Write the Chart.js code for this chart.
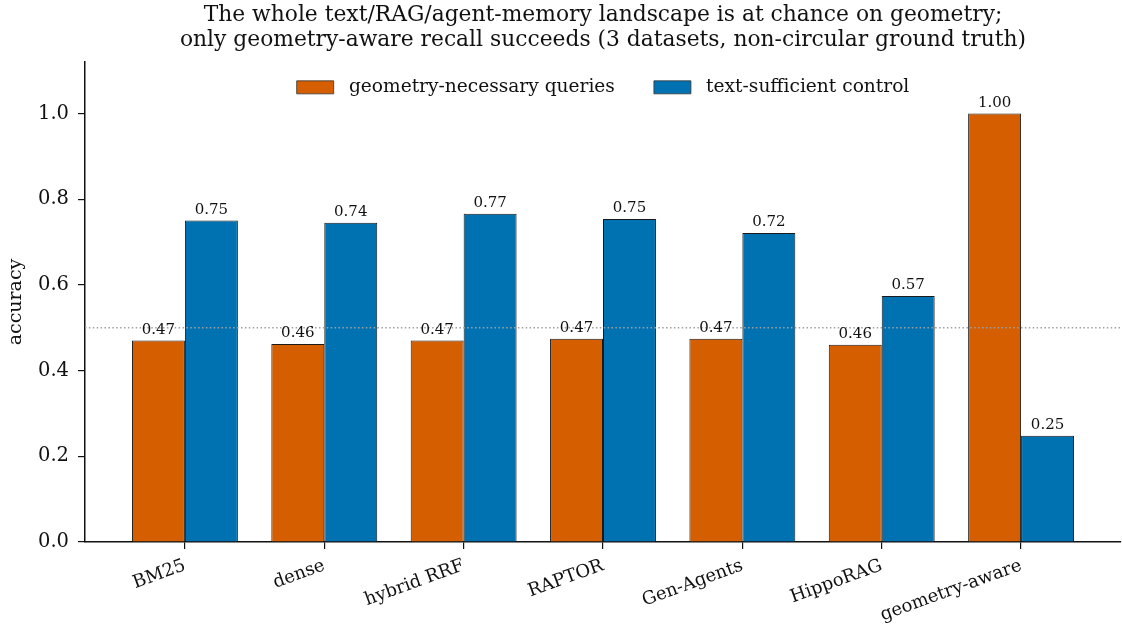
<!DOCTYPE html>
<html>
<head>
<meta charset="utf-8">
<script src="https://cdn.jsdelivr.net/npm/chart.js@4/dist/chart.umd.min.js"></script>
<style>
  html, body { margin: 0; padding: 0; background: #fff; }
  #wrap { width: 1122px; height: 626px; }
</style>
</head>
<body>
<div id="wrap"><canvas id="c" width="1122" height="626"></canvas></div>
<script>
const categories = ['BM25', 'dense', 'hybrid RRF', 'RAPTOR', 'Gen-Agents', 'HippoRAG', 'geometry-aware'];
const geoNecessary = [0.47, 0.462, 0.47, 0.474, 0.474, 0.46, 1.00];
const textSufficient = [0.75, 0.745, 0.766, 0.754, 0.721, 0.574, 0.248];
const yTicks = [0, 0.2, 0.4, 0.6, 0.8, 1.0];
const chanceLevel = 0.5;

const FONT = "'DejaVu Serif', serif";
const ORANGE = '#D55E00';
const BLUE = '#0072B2';
const LEGEND_PAD = 39;

// legend laid out in one row inside the plot area, near the top
const legendInside = {
  id: 'legendInside',
  afterInit(chart) {
    if (chart.legend) chart.legend.isHorizontal = () => true;
  },
  afterLayout(chart) {
    const L = chart.legend, a = chart.chartArea;
    if (!L) return;
    const w = L.right - L.left, h = L.bottom - L.top;
    const cx = (a.left + a.right) / 2;
    L.left = cx - w / 2; L.right = cx + w / 2;
    L.top = a.top + 27 - 11 - LEGEND_PAD; L.bottom = L.top + h;
  }
};

// dotted chance line + value labels on top of bars
const overlay = {
  id: 'overlay',
  afterDatasetsDraw(chart) {
    const { ctx, chartArea: a, scales: { y } } = chart;
    const py = y.getPixelForValue(chanceLevel);
    ctx.save();
    ctx.strokeStyle = '#a0a0a0';
    ctx.lineWidth = 1.3;
    ctx.setLineDash([1.5, 2.4]);
    ctx.beginPath();
    ctx.moveTo(a.left, py);
    ctx.lineTo(a.right, py);
    ctx.stroke();
    ctx.setLineDash([]);
    ctx.fillStyle = '#111';
    ctx.font = '15px ' + FONT;
    ctx.textAlign = 'center';
    ctx.textBaseline = 'bottom';
    chart.data.datasets.forEach((ds, di) => {
      chart.getDatasetMeta(di).data.forEach((bar, i) => {
        ctx.fillText(ds.data[i].y.toFixed(2), bar.x, bar.y - 3);
      });
    });
    ctx.restore();
  }
};

new Chart(document.getElementById('c'), {
  type: 'bar',
  data: {
    datasets: [
      { label: 'geometry-necessary queries', data: geoNecessary.map((v, i) => ({ x: i, y: v })), backgroundColor: ORANGE, borderColor: '#1a1a1a', borderWidth: 1 },
      { label: 'text-sufficient control', data: textSufficient.map((v, i) => ({ x: i, y: v })), backgroundColor: BLUE, borderColor: '#1a1a1a', borderWidth: 1 }
    ]
  },
  options: {
    responsive: false,
    animation: false,
    devicePixelRatio: 1,
    layout: { padding: { left: 0, right: 1, top: 0, bottom: 0 } },
    datasets: { bar: { categoryPercentage: 0.76, barPercentage: 1.0 } },
    plugins: {
      title: {
        display: true,
        fullSize: false,
        text: ['The whole text/RAG/agent-memory landscape is at chance on geometry;', 'only geometry-aware recall succeeds (3 datasets, non-circular ground truth)'],
        color: '#111',
        font: { family: FONT, size: 21.8, weight: 'normal', lineHeight: 1.15 },
        padding: { top: 3, bottom: 8.9 }
      },
      legend: {
        position: 'chartArea',
        align: 'center',
        labels: {
          color: '#111',
          font: { family: FONT, size: 18.6 },
          boxWidth: 37,
          boxHeight: 13,
          padding: LEGEND_PAD,
          generateLabels(chart) {
            return chart.data.datasets.map((ds, i) => ({
              text: ' ' + ds.label, fillStyle: ds.backgroundColor, strokeStyle: '#333', lineWidth: 0.8, datasetIndex: i, fontColor: '#111'
            }));
          }
        }
      },
      tooltip: { enabled: false }
    },
    scales: {
      x: {
        type: 'linear',
        offset: false,
        min: -0.717,
        max: 6.717,
        afterBuildTicks(s) { s.ticks = categories.map((c, i) => ({ value: i })); },
        afterFit(s) { s.height = 84; },
        ticks: {
          autoSkip: false,
          minRotation: 20,
          maxRotation: 20,
          padding: 6,
          color: '#111',
          font: { family: FONT, size: 18 },
          callback: v => categories[v]
        },
        grid: { display: true, offset: false, drawOnChartArea: false, drawTicks: true, tickLength: 7, color: '#111', lineWidth: 1.2 },
        border: { display: true, color: '#111', width: 1.5 }
      },
      y: {
        min: 0,
        max: 1.12,
        afterBuildTicks(s) { s.ticks = yTicks.map(v => ({ value: v })); },
        afterFit(s) { s.width = 85; },
        ticks: {
          padding: 9,
          color: '#111',
          font: { family: FONT, size: 19.5 },
          callback: v => v.toFixed(1)
        },
        title: { display: true, text: 'accuracy', color: '#111', font: { family: FONT, size: 19 }, padding: { top: 5, bottom: 0 } },
        grid: { display: true, drawOnChartArea: false, drawTicks: true, tickLength: 7, color: '#111', lineWidth: 1.2 },
        border: { display: true, color: '#111', width: 1.5 }
      }
    }
  },
  plugins: [legendInside, overlay]
});
</script>
</body>
</html>
